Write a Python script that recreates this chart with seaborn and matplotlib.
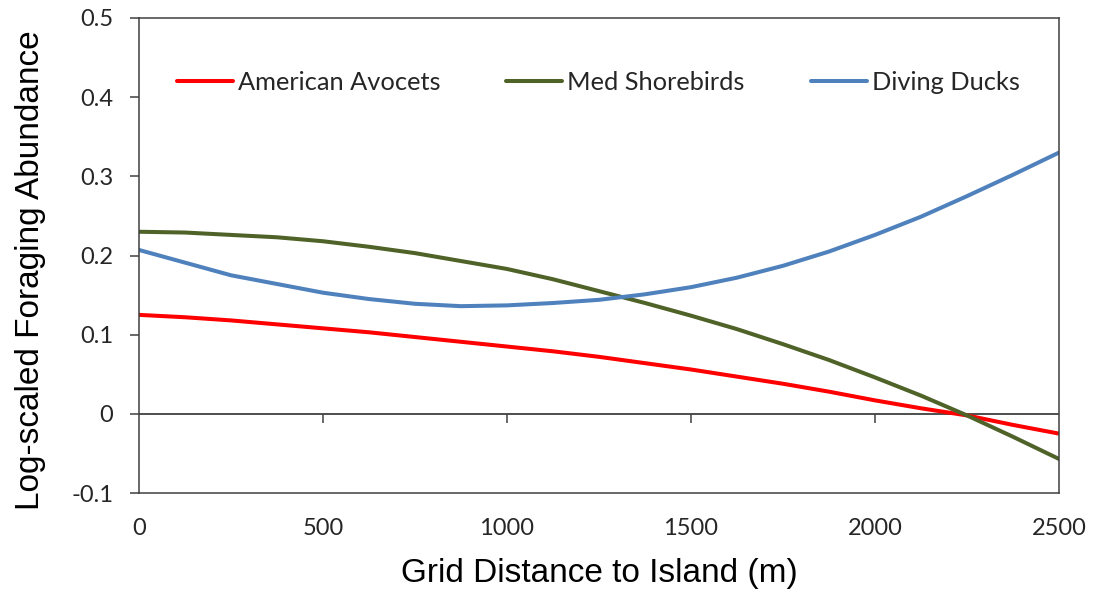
import matplotlib
matplotlib.use("Agg")
import matplotlib.pyplot as plt
import seaborn as sns
import pandas as pd

distance = [0, 125, 250, 375, 500, 625, 750, 875, 1000, 1125, 1250,
            1375, 1500, 1625, 1750, 1875, 2000, 2125, 2250, 2375, 2500]
avocets = [0.125, 0.122, 0.118, 0.113, 0.108, 0.103, 0.097, 0.091, 0.085, 0.079, 0.072,
           0.064, 0.056, 0.047, 0.038, 0.028, 0.017, 0.007, -0.002, -0.014, -0.025]
shorebirds = [0.230, 0.229, 0.226, 0.223, 0.218, 0.211, 0.203, 0.193, 0.183, 0.170, 0.155,
              0.140, 0.124, 0.107, 0.088, 0.068, 0.046, 0.023, -0.002, -0.029, -0.057]
ducks = [0.207, 0.191, 0.175, 0.164, 0.153, 0.145, 0.139, 0.136, 0.137, 0.140, 0.144,
         0.151, 0.160, 0.172, 0.187, 0.205, 0.226, 0.249, 0.275, 0.302, 0.330]
series_names = ["American Avocets", "Med Shorebirds", "Diving Ducks"]
series_colors = ["#FF0000", "#4F6228", "#4F81BD"]
x_ticks = [0, 500, 1000, 1500, 2000, 2500]
y_ticks = [-0.1, 0, 0.1, 0.2, 0.3, 0.4, 0.5]
y_tick_labels = ["-0.1", "0", "0.1", "0.2", "0.3", "0.4", "0.5"]

df = pd.concat([
    pd.DataFrame({"Distance": distance, "Value": vals, "Species": name})
    for name, vals in zip(series_names, [avocets, shorebirds, ducks])
], ignore_index=True)

sns.set_theme(style="white")
plt.rcParams["font.family"] = ["Lato", "DejaVu Sans"]

fig = plt.figure(figsize=(10.96, 5.95), dpi=100)
ax = fig.add_axes([139/1096, 1-493/595, 920/1096, 475/595])

sns.lineplot(data=df, x="Distance", y="Value", hue="Species",
             palette=dict(zip(series_names, series_colors)),
             hue_order=series_names, linewidth=2.9, ax=ax, legend=True)

ax.set_xlim(0, 2500)
ax.set_ylim(-0.1, 0.5)
edge = "#404040"
for s in ax.spines.values():
    s.set_visible(True)
    s.set_color(edge)
    s.set_linewidth(1.1)

ax.axhline(0, color=edge, lw=1.3, zorder=1)
ax.vlines(x_ticks[1:-1], -0.012, 0, color=edge, lw=1.1)

ax.set_xticks(x_ticks)
ax.set_yticks(y_ticks)
ax.set_yticklabels(y_tick_labels)
ax.tick_params(axis="x", length=0, pad=18, labelsize=17, labelcolor="#262626")
ax.tick_params(axis="y", direction="out", length=6.5, width=1.1, color=edge,
               pad=12, labelsize=17, labelcolor="#262626", left=True)

ax.set_xlabel("Grid Distance to Island (m)", fontsize=24,
              family=["Liberation Sans"], labelpad=14, color="#000000")
ax.set_ylabel("Log-scaled Foraging Abundance", fontsize=24,
              family=["Liberation Sans"], color="#000000")
ax.yaxis.set_label_coords(-0.101, 0.47)

leg = ax.legend(ncol=3, frameon=False, loc="center left",
                bbox_to_anchor=(0.041, 0.865), borderaxespad=0, borderpad=0,
                handlelength=2.2, handletextpad=0.2, columnspacing=2.6,
                prop={"family": ["Lato"], "size": 18.3})
for line in leg.get_lines():
    line.set_linewidth(2.9)
for t in leg.get_texts():
    t.set_color("#262626")

fig.savefig("out.png", dpi=100)
